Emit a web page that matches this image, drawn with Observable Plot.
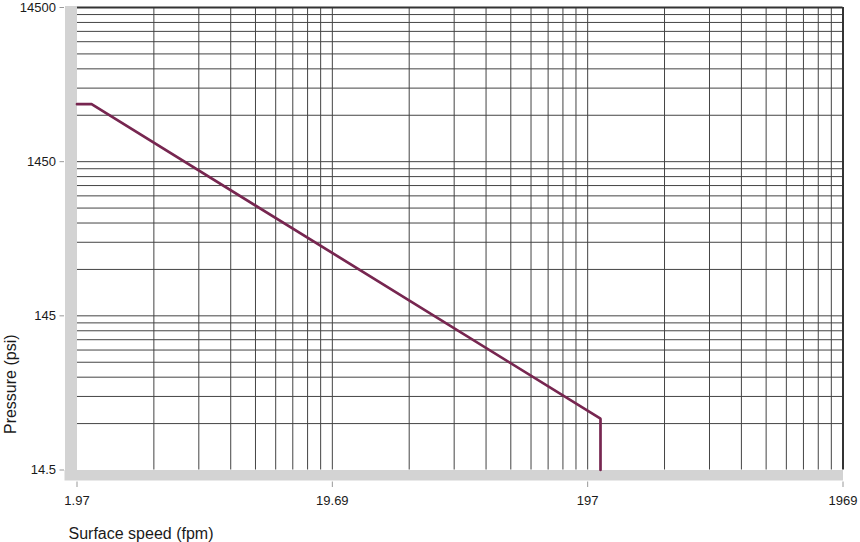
<!DOCTYPE html>
<html>
<head>
<meta charset="utf-8">
<script src="https://cdn.jsdelivr.net/npm/d3@7"></script>
<script src="https://cdn.jsdelivr.net/npm/@observablehq/plot@0.6"></script>
<style>
  html, body { margin: 0; padding: 0; background: #fff; overflow: hidden; }
</style>
</head>
<body>
<div id="chart"></div>
<script>
// Axis ticks (fpm on x, psi on y)
const xTickValues = [1.9685, 19.685, 196.85, 1968.5];
const xTickLabels = ["1.97", "19.69", "197", "1969"];
const yTickValues = [14.5, 145, 1450, 14500];
const yTickLabels = ["14.5", "145", "1450", "14500"];

// Limit curve
const speed = [1.9685, 2.245, 221, 221];
const pressure = [3421, 3421, 31.2, 14.5];

const xLabel = "Surface speed (fpm)";
const yLabel = "Pressure (psi)";

const multipliers = [1, 2, 3, 4, 5, 6, 7, 8, 9];
const xGrid = xTickValues.slice(0, 3).flatMap(d => multipliers.map(k => d * k)).filter((d, i) => i > 0);
const yGrid = yTickValues.slice(0, 3).flatMap(d => multipliers.map(k => d * k)).filter((d, i) => i > 0);

const data = speed.map((s, i) => ({speed: s, pressure: pressure[i]}));

const xMin = xTickValues[0], xMax = xTickValues[xTickValues.length - 1];
const yMin = yTickValues[0], yMax = yTickValues[yTickValues.length - 1];

const xFmt = d => xTickLabels[xTickValues.indexOf(d)];
const yFmt = d => yTickLabels[yTickValues.indexOf(d)];

const chart = Plot.plot({
  width: 860,
  height: 542,
  marginTop: 7,
  marginBottom: 72.5,
  marginLeft: 76.5,
  marginRight: 17.5,
  style: {fontFamily: "'Liberation Sans', Arial, Helvetica, sans-serif", fontSize: "13px", color: "#1a1a1a", background: "#fff"},
  x: {type: "log", domain: [xMin, xMax]},
  y: {type: "log", domain: [yMin, yMax]},
  marks: [
    Plot.ruleX(xGrid, {y1: yMax, y2: yMin, stroke: "#444", strokeWidth: 1}),
    Plot.ruleY(yGrid, {x1: xMin, x2: xMax, stroke: "#444", strokeWidth: 1}),
    Plot.ruleX([xMax], {y1: yMax, y2: yMin, stroke: "#333", strokeWidth: 2}),
    Plot.ruleY([yMax], {x1: xMin, x2: xMax, stroke: "#333", strokeWidth: 2}),
    Plot.ruleX([xMin], {y1: yMax, y2: yMin, stroke: "#d3d3d3", strokeWidth: 12, dx: -6, insetBottom: -10.5, insetTop: -1}),
    Plot.ruleY([yMin], {x1: xMin, x2: xMax, stroke: "#d3d3d3", strokeWidth: 10.5, dy: 5.25, insetLeft: -12, insetRight: -0.5}),
    Plot.line(data, {x: "speed", y: "pressure", stroke: "#772650", strokeWidth: 2.7, strokeLinejoin: "miter"}),
    Plot.axisX(xTickValues, {
      tickFormat: xFmt,
      tickSize: 5.5, tickPadding: 8, dy: 12, stroke: "#999", fill: "#1a1a1a", label: null, fontSize: 13
    }),
    Plot.axisY(yTickValues, {
      tickFormat: yFmt,
      tickSize: 4.5, tickPadding: 4, dx: -12.5, stroke: "#999", fill: "#1a1a1a", label: null, fontSize: 13
    }),
    Plot.text([xLabel], {frameAnchor: "bottom-left", textAnchor: "start", lineAnchor: "bottom", dx: -8.5, dy: 68.5, fontSize: 16, fill: "#1a1a1a"}),
    Plot.text([yLabel], {frameAnchor: "left", textAnchor: "middle", lineAnchor: "middle", rotate: -90, dx: -66.5, dy: 145.5, fontSize: 16, fill: "#1a1a1a"})
  ]
});
document.getElementById("chart").appendChild(chart);
</script>
</body>
</html>
